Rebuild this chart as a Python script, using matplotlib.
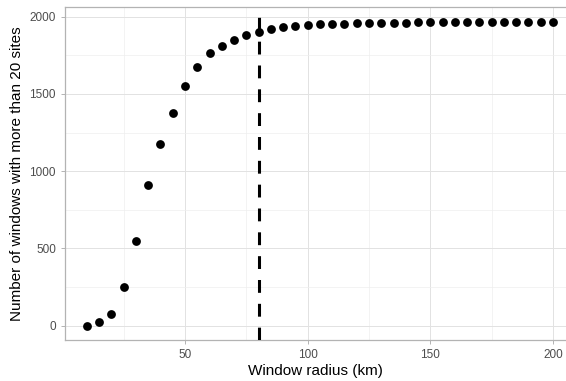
import matplotlib
matplotlib.use("Agg")
import matplotlib.pyplot as plt
import numpy as np

plt.rcParams['font.family'] = ['Liberation Sans', 'DejaVu Sans']

# window radius (km) and number of windows with > 20 sites
radius = [10, 15, 20, 25, 30, 35, 40, 45, 50, 55, 60, 65, 70, 75, 80, 85, 90, 95,
          100, 105, 110, 115, 120, 125, 130, 135, 140, 145, 150, 155, 160, 165,
          170, 175, 180, 185, 190, 195, 200]
n_windows = [0, 24, 74, 253, 550, 910, 1177, 1375, 1549, 1672, 1767, 1812, 1849,
             1881, 1902, 1920, 1935, 1942, 1946, 1951, 1953, 1955, 1957, 1960,
             1961, 1962, 1962, 1963, 1963, 1963, 1963, 1963, 1963, 1963, 1963,
             1963, 1963, 1963, 1963]
cutoff = 80

fig = plt.figure(figsize=(5.66, 3.81), dpi=100)
ax = fig.add_axes([65/566, 41/381, 501/566, 333/381])

ax.set_xlim(1.1, 205.3)
ax.set_ylim(-93, 2063)

ax.set_xticks([50, 100, 150, 200])
ax.set_yticks([0, 500, 1000, 1500, 2000])
ax.set_xticks([25, 75, 125, 175], minor=True)
ax.set_yticks([250, 750, 1250, 1750], minor=True)

ax.grid(which='major', color='#e2e2e2', linewidth=0.7)
ax.grid(which='minor', color='#eeeeee', linewidth=0.5)
ax.set_axisbelow(True)

for side in ['left', 'top', 'bottom', 'right']:
    ax.spines[side].set_color('#b3b3b3')
    ax.spines[side].set_linewidth(0.9)
ax.spines['right'].set_visible(False)

ax.tick_params(which='major', length=3, width=0.7, color='#b3b3b3',
               labelcolor='#4d4d4d', labelsize=8.5)
ax.tick_params(which='minor', length=0)

ax.scatter(radius, n_windows, s=40, color='black', zorder=3, linewidths=0)
ax.axvline(cutoff, color='black', linewidth=2.2, dashes=(4.2, 3.6), zorder=4)

ax.set_xlabel('Window radius (km)', fontsize=11, labelpad=2.5)
ax.set_ylabel('Number of windows with more than 20 sites', fontsize=11, labelpad=4)

fig.savefig('out.png', dpi=100)
